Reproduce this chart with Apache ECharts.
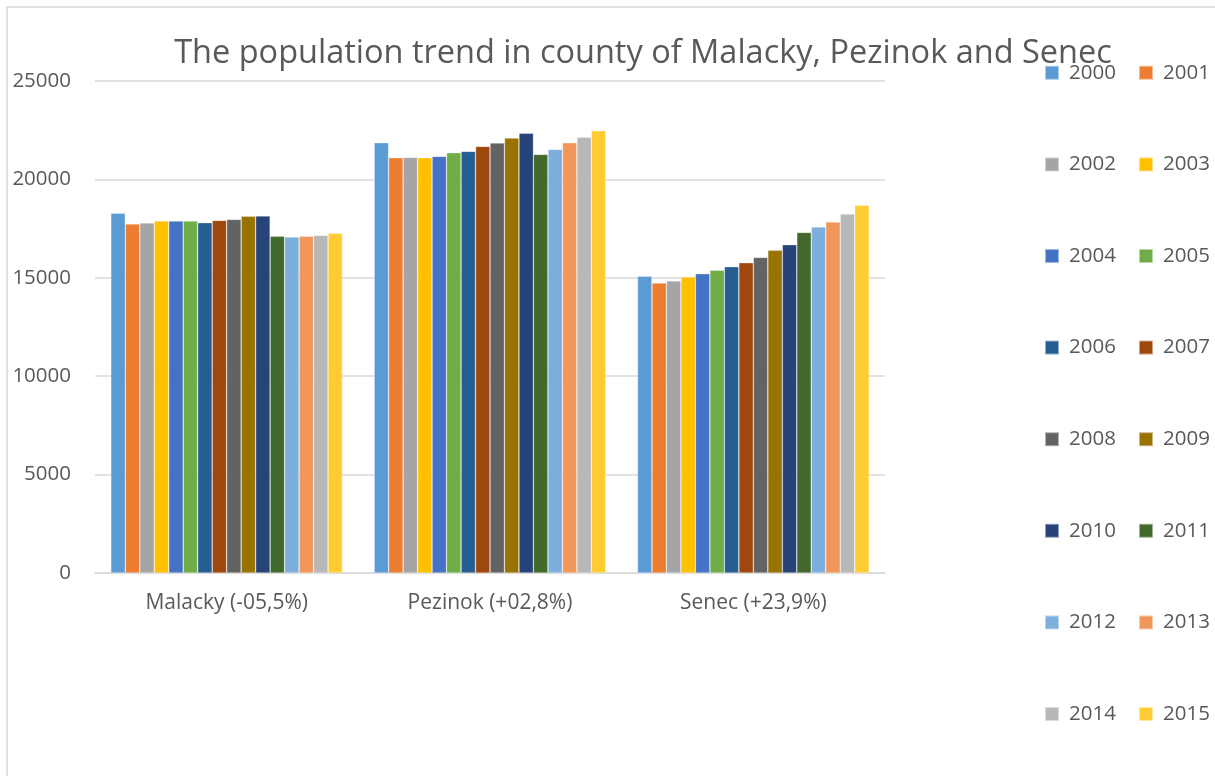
<!DOCTYPE html>
<html>
<head>
<meta charset="utf-8">
<script src="https://cdn.jsdelivr.net/npm/echarts@6/dist/echarts.min.js"></script>
<style>
html,body{margin:0;padding:0;background:#fff;}
#chart{width:1215px;height:776px;}
</style>
</head>
<body>
<div id="chart"></div>
<script>
const categories = ['Malacky (-05,5%)', 'Pezinok (+02,8%)', 'Senec (+23,9%)'];
const years = ['2000','2001','2002','2003','2004','2005','2006','2007','2008','2009','2010','2011','2012','2013','2014','2015'];
const malacky = [18277,17734,17785,17886,17886,17886,17800,17920,17970,18124,18140,17108,17073,17108,17158,17260];
const pezinok = [21865,21103,21120,21103,21172,21357,21426,21680,21850,22104,22342,21273,21528,21865,22138,22476];
const senec   = [15076,14736,14837,15041,15210,15380,15566,15768,16040,16397,16683,17310,17581,17835,18242,18683];
const colors = ['#5B9BD5','#ED7D31','#A5A5A5','#FFC000','#4472C4','#70AD47','#255E91','#9E480E','#636363','#997300','#264478','#43682B','#7CAFDD','#F1975A','#B7B7B7','#FFCD33'];
const yTicks = [0, 5000, 10000, 15000, 20000, 25000];

const chart = echarts.init(document.getElementById('chart'));
const font = '"Open Sans", sans-serif';
const series = years.map((y, i) => ({
  name: y,
  type: 'bar',
  data: [malacky[i], pezinok[i], senec[i]],
  barGap: '0%',
  barCategoryGap: '12%',
  itemStyle: { color: colors[i], borderColor: 'rgba(255,255,255,0.5)', borderWidth: 0.6 }
}));
const legendCommon = {
  orient: 'vertical',
  top: 62,
  padding: 0,
  itemWidth: 14,
  itemHeight: 14,
  itemGap: 70,
  icon: 'rect',
  textStyle: { fontSize: 20.5, color: '#595959', fontFamily: font, lineHeight: 21.6, padding: [0, 0, 0, 5] }
};
chart.setOption({
  animation: false,
  color: colors,
  title: {
    text: 'The population trend in county of Malacky, Pezinok and Senec',
    left: 638, textAlign: 'center', top: 32,
    textStyle: { fontSize: 32.5, fontWeight: 'normal', color: '#595959', fontFamily: font }
  },
  graphic: [{
    type: 'rect', shape: { x: 7, y: 7, width: 1400, height: 1000 },
    style: { fill: 'none', stroke: '#d9d9d9', lineWidth: 1.5 }, silent: true, z: -1
  }],
  legend: [
    Object.assign({}, legendCommon, { left: 1044, data: years.filter((_, i) => i % 2 === 0) }),
    Object.assign({}, legendCommon, { left: 1138, data: years.filter((_, i) => i % 2 === 1) })
  ],
  grid: { left: 95, right: 330, top: 81, bottom: 203, containLabel: false },
  xAxis: {
    type: 'category', data: categories,
    axisLine: { lineStyle: { color: '#d9d9d9', width: 1.5 } },
    axisTick: { show: false },
    axisLabel: { fontSize: 21, color: '#595959', fontFamily: font, margin: 20 }
  },
  yAxis: {
    type: 'value', min: yTicks[0], max: yTicks[yTicks.length - 1], interval: yTicks[1] - yTicks[0],
    axisLine: { show: false }, axisTick: { show: false },
    splitLine: { lineStyle: { color: '#d9d9d9', width: 1.5 } },
    axisLabel: { fontSize: 20.5, color: '#595959', fontFamily: font, margin: 24, formatter: v => String(v) }
  },
  series: series
});
</script>
</body>
</html>
